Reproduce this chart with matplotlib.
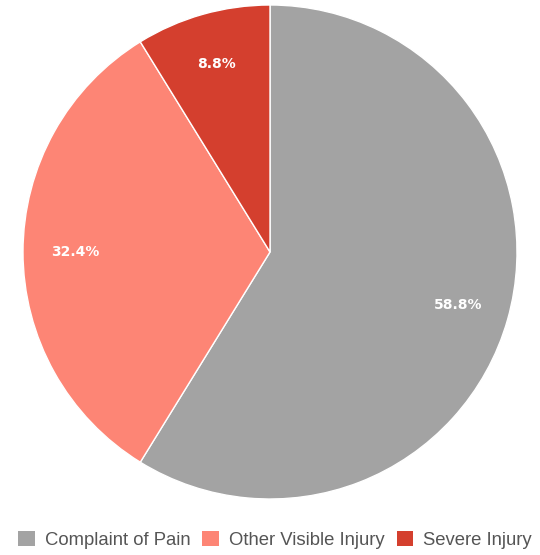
import matplotlib
matplotlib.use("Agg")
import matplotlib.pyplot as plt
from matplotlib.patches import Patch

categories = ["Complaint of Pain", "Other Visible Injury", "Severe Injury"]
values = [58.8, 32.4, 8.8]
colors = ["#a3a3a3", "#fd8575", "#d43f2e"]

fig = plt.figure(figsize=(5.4, 5.55), dpi=100)
W, H = 540, 555
cx, cy, r = 270, 252, 247
ax = fig.add_axes([(cx - r) / W, (H - cy - r) / H, 2 * r / W, 2 * r / H])

wedges, texts, autotexts = ax.pie(
    values,
    colors=colors,
    startangle=90,
    counterclock=False,
    autopct="%.1f%%",
    pctdistance=0.79,
    wedgeprops=dict(edgecolor="white", linewidth=1),
    textprops=dict(color="white", fontsize=10, fontweight="bold",
                   family="DejaVu Sans"),
)
ax.set_xlim(-1, 1)
ax.set_ylim(-1, 1)
ax.set_aspect("equal")
ax.axis("off")

handles = [Patch(facecolor=c, edgecolor="none") for c in colors]
fig.legend(
    handles, categories,
    loc="center", bbox_to_anchor=(275 / W, 1 - 540 / H),
    ncol=3, frameon=False,
    prop=dict(family="Liberation Sans", size=13.3),
    labelcolor="#555555",
    handlelength=0.9, handleheight=0.9, handletextpad=0.55,
    columnspacing=0.64, borderpad=0, borderaxespad=0,
)

fig.savefig("out.png", dpi=100)
